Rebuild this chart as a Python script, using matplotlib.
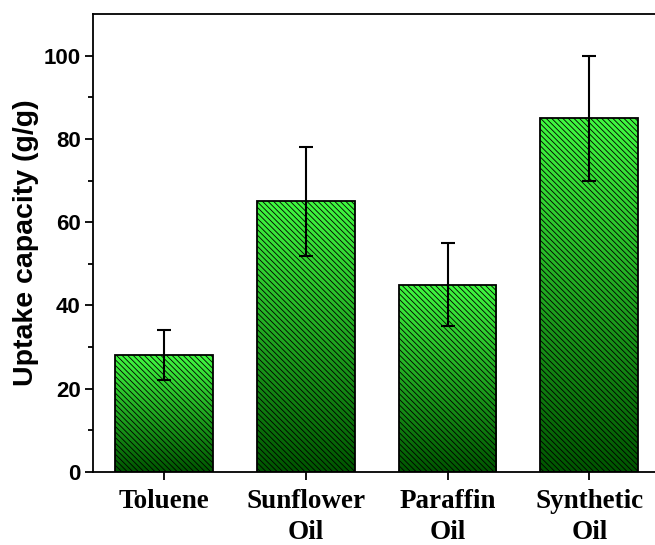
import matplotlib.pyplot as plt
import numpy as np
from matplotlib.colors import LinearSegmentedColormap

categories = ["Toluene", "Sunflower\nOil", "Paraffin\nOil", "Synthetic\nOil"]
uptake = [28, 65, 45, 85]
uptake_err = [6, 13, 10, 15]

plt.rcParams['hatch.linewidth'] = 0.6

fig = plt.figure(figsize=(6.55, 5.45), dpi=100)
ax = fig.add_axes([0.142, 0.134, 0.866, 0.840])

x = np.arange(len(categories))
width = 0.69
green = LinearSegmentedColormap.from_list("grn", ["#005500", "#40FA40"])

bars = ax.bar(x, uptake, width, facecolor='none', edgecolor='none', zorder=1)
for b in bars:
    x0, y0 = b.get_x(), b.get_y()
    grad = np.linspace(0, 1, 256).reshape(-1, 1)
    im = ax.imshow(grad, extent=[x0, x0 + b.get_width(), y0, y0 + b.get_height()],
                   origin='lower', aspect='auto', cmap=green, zorder=1)
    im.set_clip_path(b)

ax.bar(x, uptake, width, facecolor='none', edgecolor='black', linewidth=1.3,
       hatch='\\\\\\\\\\\\', zorder=2)
ax.errorbar(x, uptake, yerr=uptake_err, fmt='none', ecolor='black',
            elinewidth=1.5, capsize=5, capthick=1.5, zorder=3)

ax.set_xlim(-0.5, 3.5)
ax.set_ylim(0, 110)
ax.set_yticks(range(0, 101, 20))
ax.set_yticks(range(10, 110, 20), minor=True)
ax.set_xticks(x)
ax.set_xticklabels(categories, fontfamily='Liberation Serif', fontweight='bold',
                   fontsize=19.5, linespacing=1.3)
for lab in ax.get_yticklabels():
    lab.set_fontfamily('Liberation Sans')
    lab.set_fontweight('bold')
    lab.set_fontsize(16)

ax.tick_params(axis='both', which='major', direction='out', length=5.5, width=1.3)
ax.tick_params(axis='y', which='minor', direction='out', length=3.5, width=1.3)
ax.tick_params(axis='x', pad=7)
for s in ax.spines.values():
    s.set_linewidth(1.3)

ax.set_ylabel("Uptake capacity (g/g)", fontfamily='Liberation Sans',
              fontweight='bold', fontsize=20.5, labelpad=3)

fig.savefig("out.png", dpi=100)
